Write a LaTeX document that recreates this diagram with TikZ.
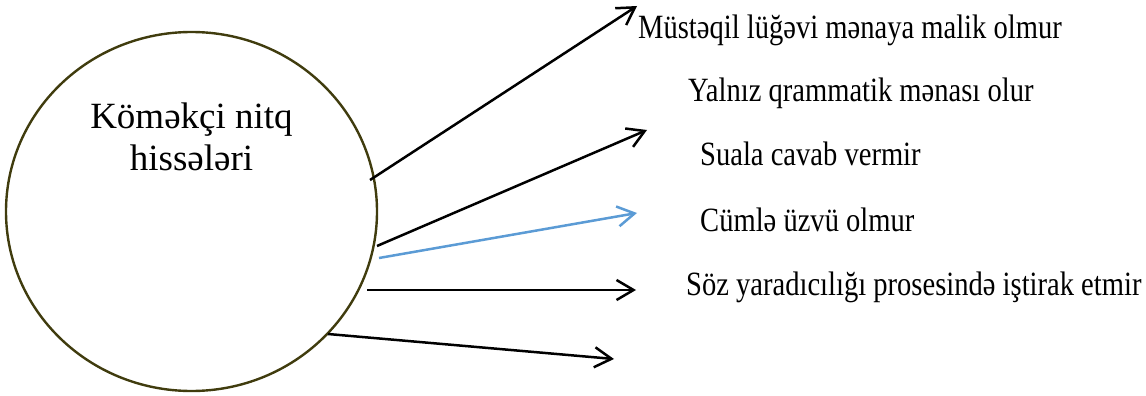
\documentclass[tikz,border=0pt]{standalone}
\usepackage{fontspec}
\setmainfont{Liberation Serif}
\newfontfamily\lblfont[FakeStretch=0.84]{Liberation Serif}
\usetikzlibrary{arrows.meta,shapes.geometric}
\definecolor{olive}{RGB}{64,60,14}
\definecolor{office}{RGB}{91,155,213}
\begin{document}
\begin{tikzpicture}[x=1pt,y=-1pt,
  arr/.style={line width=2.5pt,-{Straight Barb[length=17pt,width=20pt,line width=2.5pt]}},
  lbl/.style={anchor=base west,inner sep=0pt,font=\lblfont\fontsize{34}{40}\selectfont},
  ttl/.style={anchor=base,inner sep=0pt,font=\fontsize{37}{41}\selectfont}]
\useasboundingbox (0,0) rectangle (1146,396);
\node[draw=olive,line width=2.4pt,ellipse,minimum width=371pt,minimum height=359pt,inner sep=0pt] (c) at (191.5,211.5) {};
\node[ttl] (t1) at (191.5,128) {Köməkçi nitq};
\node[ttl] (t2) at (191.5,170) {hissələri};
\node[lbl] (l1) at (638,39) {Müstəqil lüğəvi mənaya malik olmur};
\node[lbl] (l2) at (688,101) {Yalnız qrammatik mənası olur};
\node[lbl] (l3) at (700,165) {Suala cavab vermir};
\node[lbl] (l4) at (700,231) {Cümlə üzvü olmur};
\node[lbl] (l5) at (686,295) {Söz yaradıcılığı prosesində iştirak etmir};
\coordinate (s1) at (370,180); \coordinate (e1) at (637,6);
\coordinate (s2) at (377,246); \coordinate (e2) at (647,130);
\coordinate (s3) at (379,258); \coordinate (e3) at (637,213);
\coordinate (s4) at (367,290); \coordinate (e4) at (636,290);
\coordinate (s5) at (328,334); \coordinate (e5) at (614,359);
\draw[arr] (s1) -- (e1);
\draw[arr] (s2) -- (e2);
\draw[arr,draw=office] (s3) -- (e3);
\draw[arr] (s4) -- (e4);
\draw[arr] (s5) -- (e5);
\end{tikzpicture}
\end{document}
